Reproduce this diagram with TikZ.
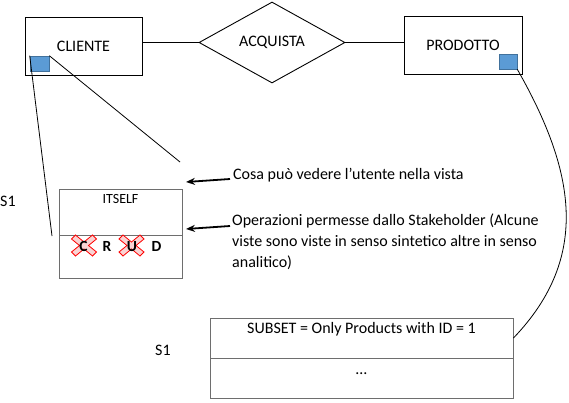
\documentclass[tikz,border=0pt]{standalone}
\usepackage{fontspec}
\setmainfont{Carlito}
\usetikzlibrary{arrows.meta, positioning, shapes.geometric}
\definecolor{keyfill}{RGB}{91,155,213}
\definecolor{keyborder}{RGB}{65,113,156}
\definecolor{viewborder}{RGB}{110,110,110}
\definecolor{crossfill}{RGB}{248,200,200}
\definecolor{crossborder}{RGB}{255,0,0}
\tikzset{
  entity/.style={rectangle, draw=black, line width=0.9pt, minimum height=58pt,
                 inner sep=0pt, font=\fontsize{16}{19}\selectfont},
  relation/.style={diamond, draw=black, line width=0.9pt, shape aspect=1.8, minimum width=146pt,
                   minimum height=81pt, inner sep=0pt, font=\fontsize{16}{19}\selectfont},
  keybox/.style={rectangle, draw=keyborder, fill=keyfill, line width=0.6pt, minimum height=15pt, inner sep=0pt},
  viewbox/.style={rectangle, draw=viewborder, line width=0.9pt, minimum width=123pt, inner sep=0pt},
  txt/.style={inner sep=0pt, font=\fontsize{16}{21}\selectfont},
  small/.style={inner sep=0pt, font=\fontsize{14}{16}\selectfont},
  crud/.style={inner sep=0pt, font=\fontsize{15.5}{18}\selectfont\bfseries},
  link/.style={line width=0.8pt},
  arr/.style={-{Stealth[length=9pt, width=7pt]}, line width=1.8pt},
  nox/.style={draw=crossborder, fill=crossfill, fill opacity=0.8, line width=0.8pt}
}
\newcommand{\nocross}[1]{\draw[nox, shift={#1}] (-12.5,-6.5) -- (-8.5,-10.5) -- (0,-3.5) -- (8.5,-10.5)
  -- (12.5,-6.5) -- (4.5,0) -- (12.5,6.5) -- (8.5,10.5) -- (0,3.5) -- (-8.5,10.5) -- (-12.5,6.5) -- (-4.5,0) -- cycle;}

\begin{document}
\begin{tikzpicture}[x=1pt, y=-1pt]
\useasboundingbox (0,0) rectangle (569,402);
% schema E-R
\node[entity, minimum width=117pt] (cliente) at (83.5,46) {CLIENTE};
\node[relation] (acquista) at (272,42.5) {ACQUISTA};
\node[entity, minimum width=118pt] (prodotto) at (463,45) {PRODOTTO};
\node[keybox, minimum width=19pt] (clkey) at (39.5,63.5) {};
\node[keybox, minimum width=18pt] (prkey) at (508,61.5) {};
\draw[link] (acquista.west -| cliente.east) -- (acquista.west);
\draw[link] (acquista.east) -- (acquista.east -| prodotto.west);
% vista su CLIENTE
\node[viewbox, minimum height=46pt] (itself) at (120.5,212) {};
\node[viewbox, minimum height=43pt] (crudrow) at (120.5,256.5) {};
\node[small, below=6pt of itself.north] (itselflbl) {ITSELF};
\nocross{(84,245.5)} \nocross{(131.5,245.5)}
\foreach \l/\x in {C/83.5,R/107,U/132,D/156.5}
  \node[crud, anchor=base] (crud\l) at (\x,251.5) {\l};
\node[txt, anchor=base west] (sone) at (0,206) {S1};
\coordinate (viewl) at (52,236);
\coordinate (viewr) at (180,162);
\draw[link] (clkey.north west) -- (viewl);
\draw[link] (clkey.north east) -- (viewr);
% note
\node[txt, anchor=base west] (note1) at (233,179) {Cosa può vedere l’utente nella vista};
\node[txt, anchor=north west, align=left] (note2) at (232,214)
  {Operazioni permesse dallo Stakeholder (Alcune\\ viste sono viste in senso sintetico altre in senso\\ analitico)};
\coordinate (tip1) at (186,182);
\coordinate (tip2) at (186,229);
\draw[arr] ([xshift=-3pt]note1.base west) -- (tip1);
\draw[arr] ([xshift=-2pt, yshift=-12pt]note2.north west) -- (tip2);
% vista su PRODOTTO
\node[viewbox, minimum width=303pt, minimum height=40pt] (subtop) at (361.5,338) {};
\node[viewbox, minimum width=303pt, minimum height=40pt] (subbot) at (361.5,378) {};
\node[txt, below=5pt of subtop.north] (subsetlbl) {SUBSET = Only Products with ID = 1};
\node[txt, anchor=base] (dots) at ([yshift=-17pt]subbot.north) {…};
\node[txt, anchor=base west] (stwo) at (155,355) {S1};
\draw[link] (prkey.south east) .. controls (574,169) and (592,256) .. (subtop.east);
\end{tikzpicture}
\end{document}
